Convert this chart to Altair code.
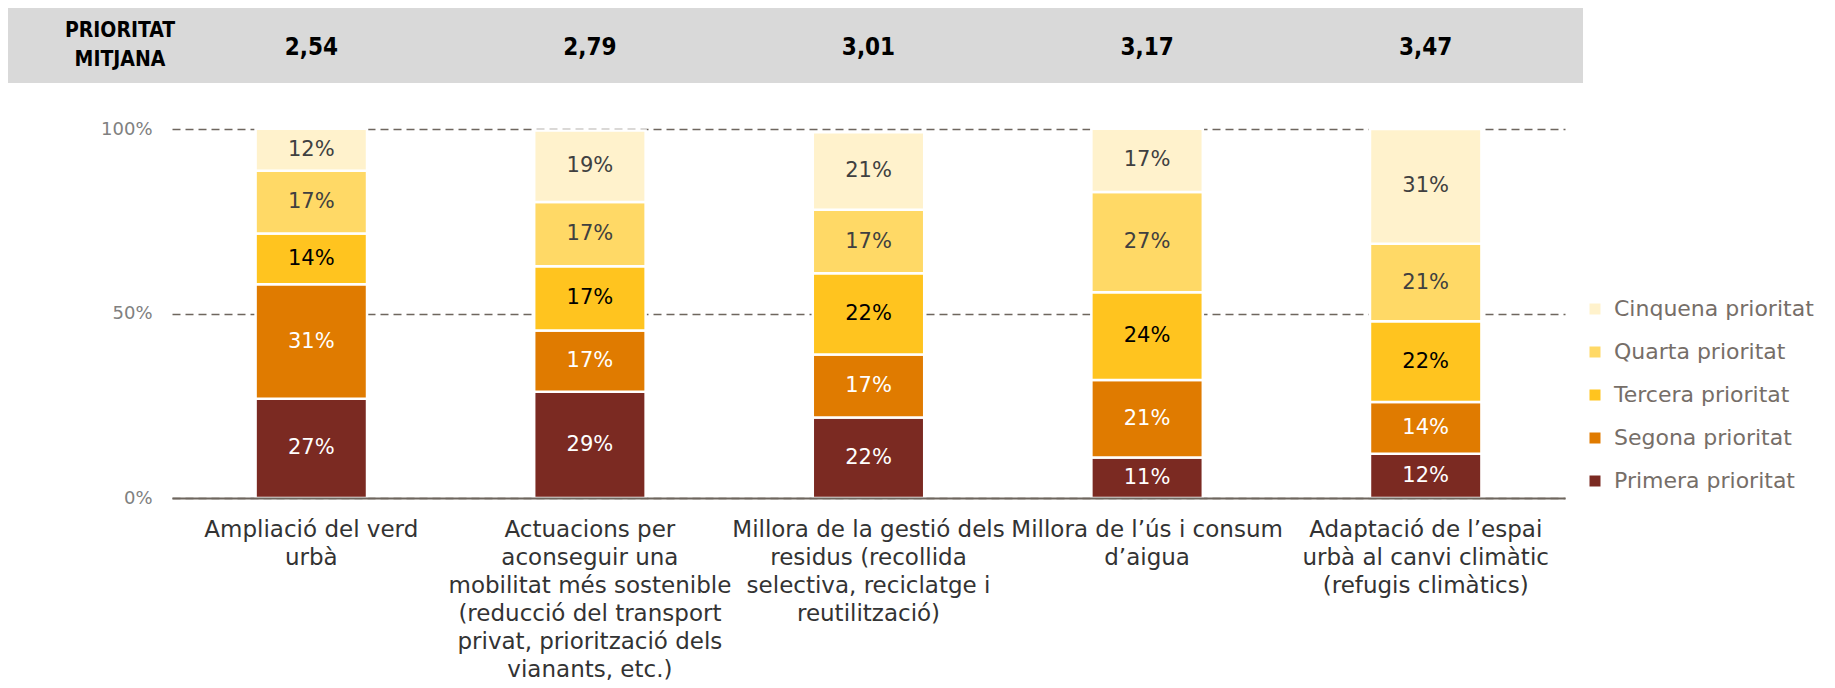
import altair as alt
import pandas as pd

categories = [
    "Ampliació del verd|urbà",
    "Actuacions per|aconseguir una|mobilitat més sostenible|(reducció del transport|privat, priorització dels|vianants, etc.)",
    "Millora de la gestió dels|residus (recollida|selectiva, reciclatge i|reutilització)",
    "Millora de l’ús i consum|d’aigua",
    "Adaptació de l’espai|urbà al canvi climàtic|(refugis climàtics)",
]
series = ["Primera prioritat", "Segona prioritat", "Tercera prioritat",
          "Quarta prioritat", "Cinquena prioritat"]

# segment sizes (%)
primera = [26.9, 28.8, 21.8, 10.95, 12.0]
segona = [31.0, 16.6, 17.1, 21.0, 14.0]
tercera = [13.8, 17.4, 22.0, 23.8, 21.9]
quarta = [17.0, 17.4, 17.2, 27.2, 21.0]
cinquena = [11.4, 19.4, 21.0, 17.1, 31.1]

# printed labels (%)
primera_lbl = [27, 29, 22, 11, 12]
segona_lbl = [31, 17, 17, 21, 14]
tercera_lbl = [14, 17, 22, 24, 22]
quarta_lbl = [17, 17, 17, 27, 21]
cinquena_lbl = [12, 19, 21, 17, 31]

averages = ["2,54", "2,79", "3,01", "3,17", "3,47"]
header_title = "PRIORITAT\nMITJANA"

bar_colors = ["#7B2A22", "#E07B00", "#FFC41F", "#FFD966", "#FFF2CC"]
text_colors = ["#FFFFFF", "#FFFFFF", "#000000", "#404040", "#404040"]

vals = [primera, segona, tercera, quarta, cinquena]
lbls = [primera_lbl, segona_lbl, tercera_lbl, quarta_lbl, cinquena_lbl]
rows = []
for si, s in enumerate(series):
    for ci, c in enumerate(categories):
        rows.append({"cat": c, "series": s, "idx": si,
                     "value": vals[si][ci], "label": f"{lbls[si][ci]}%"})
df = pd.DataFrame(rows)
hdf = pd.DataFrame({"cat": categories, "avg": averages})

FONT = "DejaVu Sans"
HFONT = "DejaVu Sans Condensed, Liberation Sans Narrow, DejaVu Sans"
LINE = "#6E665E"

x_enc = alt.X(
    "cat:N", sort=categories, title=None,
    scale=alt.Scale(paddingInner=0.6, paddingOuter=0.3),
    axis=alt.Axis(labelExpr="split(datum.label, '|')", labelAngle=0,
                  labelFont=FONT, labelFontSize=23, labelColor="#333333",
                  labelLineHeight=28, labelBaseline="top", labelPadding=20,
                  labelLimit=0, ticks=False, domainColor=LINE,
                  domainWidth=2, zindex=1, grid=False),
)

base = alt.Chart(df).transform_stack(
    stack="value", groupby=["cat"], as_=["v0", "v1"],
    sort=[alt.SortField("idx", order="ascending")],
).transform_calculate(mid="(datum.v0 + datum.v1) / 2")

y_scale = alt.Scale(domain=[0, 100])

bars = base.mark_bar(stroke="white", strokeWidth=2.5).encode(
    x=x_enc,
    y=alt.Y("v0:Q", scale=y_scale, title=None,
            axis=alt.Axis(values=[0, 50, 100], labelExpr="datum.value + '%'",
                          labelFont=FONT, labelFontSize=18, labelColor="#808080",
                          labelPadding=20, ticks=False, domain=False,
                          grid=True, gridDash=[8, 5], gridColor=LINE,
                          gridWidth=1.5)),
    y2="v1:Q",
    color=alt.Color("series:N", scale=alt.Scale(domain=series, range=bar_colors),
                    legend=alt.Legend(values=series[::-1], title=None,
                                      orient="none", legendX=1412, legendY=169,
                                      symbolType="square", symbolSize=121,
                                      symbolStrokeWidth=0, labelFont=FONT,
                                      labelFontSize=22, labelColor="#766E68",
                                      labelOffset=8, rowPadding=21, padding=0,
                                      labelLimit=0)),
)

texts = base.mark_text(font=FONT, fontSize=21).encode(
    x=x_enc,
    y=alt.Y("mid:Q", scale=y_scale),
    text="label:N",
    color=alt.Color("series:N", scale=alt.Scale(domain=series, range=text_colors),
                    legend=None),
)

band = alt.Chart(pd.DataFrame({"k": [0]})).mark_rect(color="#D9D9D9").encode(
    x=alt.value(-164), x2=alt.value(1411), y=alt.value(-121), y2=alt.value(-46)
)

htitle = alt.Chart(pd.DataFrame({"t": [header_title]})).mark_text(
    font=HFONT, fontSize=21, fontWeight="bold", lineBreak="\n",
    lineHeight=29, color="#000000"
).encode(x=alt.value(-52), y=alt.value(-98), text="t:N")

hvals = alt.Chart(hdf).mark_text(
    font=HFONT, fontSize=24, fontWeight="bold", color="#000000"
).encode(x=x_enc, y=alt.value(-81), text="avg:N")

chart = alt.layer(band, htitle, hvals, bars, texts).resolve_scale(
    color="independent"
).properties(
    width=1393, height=369,
    autosize=alt.AutoSizeParams(type="none"),
    padding={"left": 164, "top": 121, "right": 262, "bottom": 182},
).configure_view(stroke=None)

chart.save("out.html", embed_options={"renderer": "svg", "actions": False})
